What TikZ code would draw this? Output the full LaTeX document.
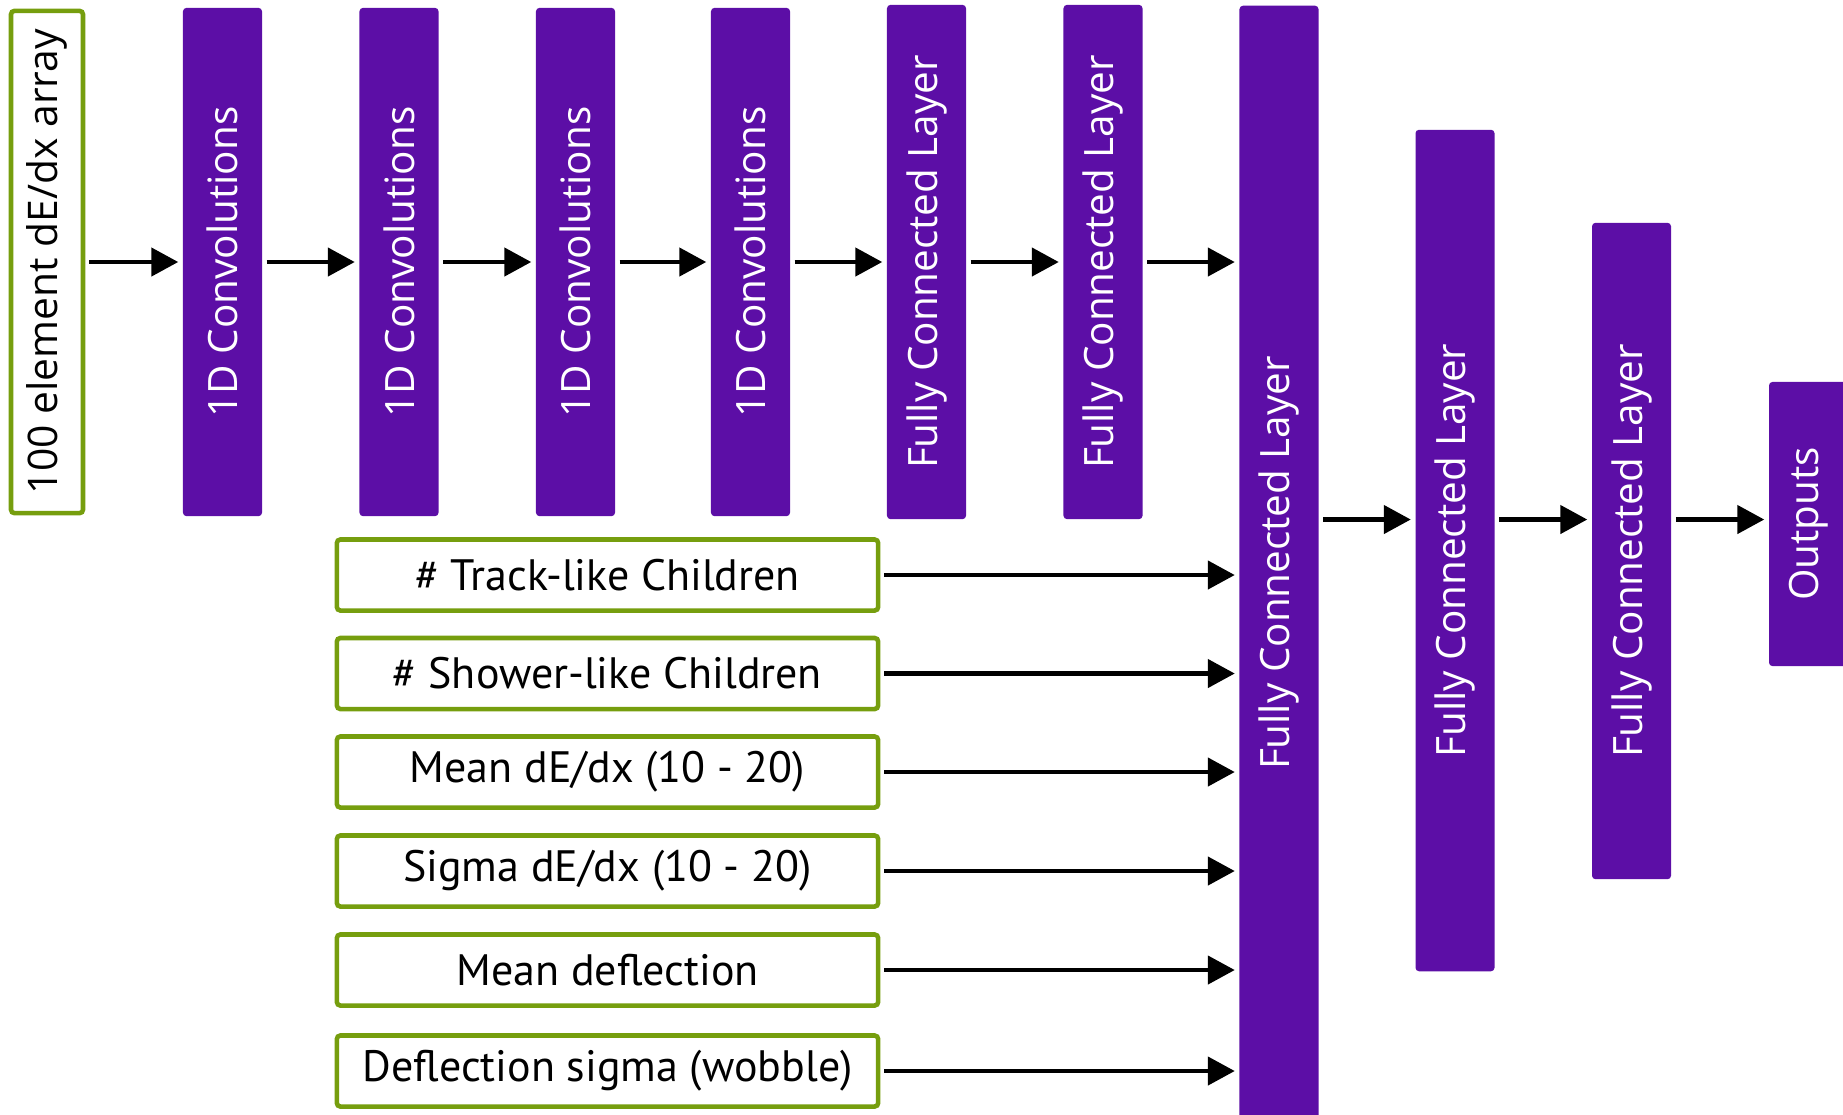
\documentclass[tikz,border=0pt]{standalone}
\usepackage{fontspec}
\setmainfont{Open Sans}
\newfontfamily\featfont{PT Sans}
\usetikzlibrary{arrows.meta}
\definecolor{layerpurple}{RGB}{92,14,166}
\definecolor{inputgreen}{RGB}{118,158,14}

\begin{document}
\begin{tikzpicture}[x=0.01cm,y=-0.01cm,
    layer/.style={fill=layerpurple,rounded corners=1pt,inner sep=0pt,minimum width=0.79cm},
    vtext/.style={rotate=90,text=white,font=\fontsize{11.5}{13}\selectfont},
    inbox/.style={draw=inputgreen,line width=1.3pt,fill=white,rounded corners=1pt,inner sep=0pt},
    flow/.style={-{Triangle[length=0.27cm,width=0.28cm]},line width=1.3pt,shorten <=0.04cm,shorten >=0.04cm}]
    \useasboundingbox (0,0) rectangle (1843,1114);

    % Input array
    \node[inbox,minimum width=0.72cm,minimum height=5.02cm,
          label={[rotate=90,font=\fontsize{11.6}{14}\selectfont]center:100 element dE/dx array}] (in) at (47,262) {};

    % Convolution layers
    \foreach \i/\x in {1/222.5,2/399,3/575.5,4/750.5} {
        \node[layer,minimum height=5.08cm,label={[vtext]center:1D Convolutions}] (conv\i) at (\x,262) {};
    }

    % Fully connected layers
    \node[layer,minimum height=5.14cm,label={[vtext]center:Fully Connected Layer}] (fc1) at (926.5,262) {};
    \node[layer,minimum height=5.14cm,label={[vtext]center:Fully Connected Layer}] (fc2) at (1103,262) {};
    \node[layer,minimum height=11.14cm,label={[vtext]center:Fully Connected Layer}] (fc3) at (1279,563) {};
    \node[layer,minimum height=8.41cm,label={[vtext]center:Fully Connected Layer}] (fc4) at (1455,550.5) {};
    \node[layer,minimum height=6.56cm,label={[vtext]center:Fully Connected Layer}] (fc5) at (1631.5,551) {};
    \node[layer,minimum height=2.84cm,label={[vtext]center:Outputs}] (out) at (1808.5,524) {};

    % Extra features
    \foreach \i/\y/\t in {1/575/{\# Track-like Children},2/673.5/{\# Shower-like Children},
                          3/772/{Mean dE/dx (10 - 20)},4/871/{Sigma dE/dx (10 - 20)},
                          5/970/{Mean deflection},6/1071/{Deflection sigma (wobble)}} {
        \node[inbox,minimum width=5.41cm,minimum height=0.71cm,
              font=\featfont\fontsize{12.5}{15}\selectfont] (f\i) at (607.5,\y) {\t};
        \draw[flow] (f\i.east) -- (f\i.east -| fc3.west);
    }

    % Arrows
    \foreach \a/\b in {in/conv1,conv1/conv2,conv2/conv3,conv3/conv4,conv4/fc1,fc1/fc2} {
        \draw[flow] (\a.east) -- (\b.west);
    }
    \draw[flow] (fc2.east) -- (fc2.east -| fc3.west);
    \coordinate (row) at (0,519.5);
    \draw[flow] (fc3.east |- row) -- (fc4.west |- row);
    \draw[flow] (fc4.east |- row) -- (fc5.west |- row);
    \draw[flow] (fc5.east |- row) -- (out.west |- row);
\end{tikzpicture}
\end{document}
